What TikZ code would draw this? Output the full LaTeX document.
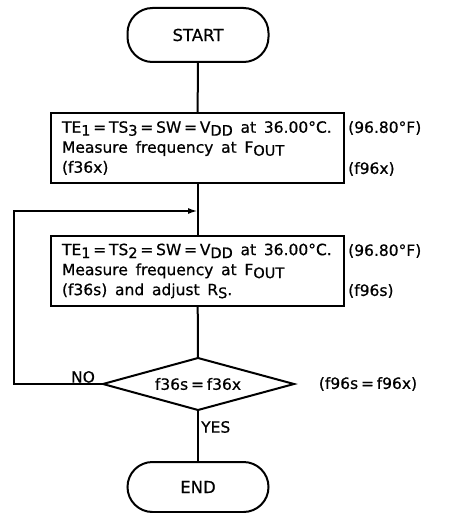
\documentclass[tikz,border=0pt]{standalone}
\usepackage{fontspec}
\setmainfont{DejaVu Sans}[FakeBold=0.6]
\usetikzlibrary{arrows.meta}
\newcommand{\lowr}[1]{\raisebox{-0.35ex}{\fontsize{14.5}{14.5}\selectfont #1}}
\newcommand{\eqsp}{\hspace{0.18em}=\hspace{0.18em}}
\tikzset{
  every node/.style={font=\fontsize{15.5}{20}\selectfont},
  conn/.style={line width=2pt},
  term/.style={draw, line width=2pt, rounded corners=25pt, minimum width=141pt, minimum height=54pt, inner sep=0pt, font=\fontsize{16.5}{18}\selectfont},
  procbox/.style={draw, line width=2pt, minimum width=293pt, minimum height=70pt, inner xsep=11pt, inner ysep=0pt, text width=271pt, align=left, execute at begin node={\spaceskip=0.5em\relax}},
  note/.style={anchor=west, inner sep=0pt},
  lbl/.style={inner sep=0pt}
}
\begin{document}
\begin{tikzpicture}[x=1pt,y=-1pt]
\useasboundingbox (0,0) rectangle (451,513);
\node[term] (start) at (198,35) {START};
\node[procbox] (b1) at (197.5,148) {TE\lowr{1}\eqsp TS\lowr{3}\eqsp SW\eqsp V\lowr{DD} at 36.00°C.\\Measure frequency at F\lowr{OUT}\\(f36x)};
\node[note] (n1a) at (348,128) {(96.80°F)};
\node[note] (n1b) at (348,169) {(f96x)};
\node[procbox] (b2) at (197.5,271) {TE\lowr{1}\eqsp TS\lowr{2}\eqsp SW\eqsp V\lowr{DD} at 36.00°C.\\Measure frequency at F\lowr{OUT}\\(f36s) and adjust R\lowr{S}.};
\node[note] (n2a) at (348,251) {(96.80°F)};
\node[note] (n2b) at (348,291) {(f96s)};
\coordinate (dt) at (198,358);
\coordinate (db) at (198,410);
\coordinate (dl) at (103,384);
\coordinate (dr) at (294,384);
\draw[line width=2pt, line join=miter] (dt) -- (dr) -- (db) -- (dl) -- cycle;
\node[lbl] (dec) at (198,384) {f36s\eqsp f36x};
\node[lbl] (n3) at (368,384) {(f96s\eqsp f96x)};
\node[term, minimum height=50pt] (end) at (198,487) {END};
\coordinate (join) at (198,211);
\coordinate (lc1) at (14,384);
\coordinate (lc2) at (14,211);
\draw[conn] (start) -- (b1);
\draw[conn] (b1) -- (b2);
\draw[conn] (b2) -- (dt);
\draw[conn] (db) -- (end);
\draw[conn, -{Latex[length=10pt,width=6pt]}] (dl) -- (lc1) -- (lc2) -- (join);
\node[lbl, anchor=south] (no) at (83,383) {NO};
\node[lbl, anchor=west] (yes) at (201,427) {YES};
\end{tikzpicture}
\end{document}
